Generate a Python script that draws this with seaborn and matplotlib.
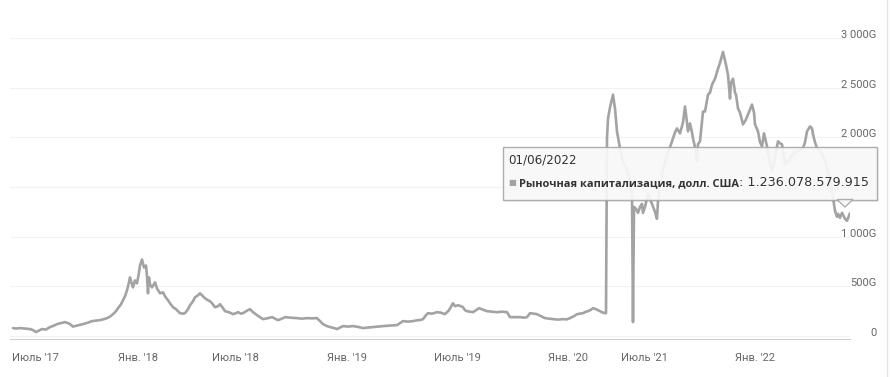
import matplotlib
matplotlib.use("Agg")
import matplotlib.pyplot as plt
import matplotlib.transforms as mtransforms
import pandas as pd
import seaborn as sns
from matplotlib.patches import FancyBboxPatch, Polygon

# ordinal point position along the (gapped) time axis, and market cap in billions USD
point_pos = [
    1, 4, 8, 13, 18, 21, 24, 27, 30, 34, 38, 42, 45, 49, 53, 56, 58, 61, 63, 67,
    71, 76, 80, 84, 88, 92, 95, 98, 101, 104, 106, 109, 111, 113, 115, 117, 118, 120, 121, 123,
    125, 127, 128, 130, 132, 134, 135, 136, 137, 138, 140, 143, 145, 148, 151, 153, 156, 158, 161, 164,
    168, 171, 173, 176, 178, 181, 183, 186, 188, 191, 193, 196, 198, 200, 203, 206, 208, 211, 213, 217,
    221, 224, 226, 229, 231, 235, 238, 241, 245, 248, 251, 256, 260, 263, 266, 270, 273, 278, 285, 290,
    295, 300, 305, 308, 311, 315, 318, 322, 325, 328, 331, 336, 341, 346, 351, 356, 361, 366, 371, 378,
    385, 388, 391, 396, 401, 406, 408, 411, 414, 416, 420, 425, 429, 433, 437, 441, 443, 446, 449, 451,
    453, 455, 458, 461, 464, 467, 471, 475, 480, 485, 490, 495, 498, 503, 508, 512, 515, 518, 522, 525,
    529, 533, 537, 541, 546, 551, 555, 558, 562, 565, 568, 571, 574, 576, 579, 581, 584, 588, 591, 593,
    594, 595, 596, 598, 600, 601, 603, 605, 608, 611, 614, 617, 620, 621, 622, 624, 626, 628, 630, 631,
    633, 636, 638, 640, 643, 645, 646, 648, 650, 653, 656, 658, 660, 663, 665, 668, 671, 673, 675, 676,
    678, 680, 681, 683, 685, 686, 688, 691, 693, 696, 698, 700, 703, 706, 708, 711, 714, 716, 718, 719,
    721, 723, 724, 726, 728, 731, 734, 736, 740, 742, 743, 746, 748, 750, 752, 755, 758, 760, 763, 766,
    768, 770, 773, 776, 778, 781, 785, 788, 791, 793, 795, 798, 800, 801, 803, 805, 808, 810, 813, 815,
    818, 820, 822, 823, 825, 826, 828, 830, 833, 835, 838,
]
market_cap = [
    80, 75, 80, 75, 70, 60, 40, 55, 70, 65, 90, 105, 120, 130, 140, 130, 120, 95, 100, 110,
    120, 135, 150, 155, 160, 170, 180, 195, 220, 250, 280, 320, 360, 400, 460, 540, 590, 520, 490, 560,
    530, 640, 710, 770, 690, 710, 600, 430, 590, 520, 490, 540, 480, 430, 440, 400, 360, 330, 290, 270,
    230, 225, 230, 270, 310, 350, 390, 410, 430, 400, 380, 360, 350, 330, 290, 300, 320, 280, 250, 240,
    220, 230, 240, 225, 230, 255, 270, 240, 210, 190, 170, 180, 190, 175, 160, 175, 190, 185, 180, 175,
    180, 178, 180, 150, 120, 100, 90, 80, 70, 85, 100, 95, 100, 92, 80, 85, 90, 95, 100, 105,
    110, 130, 150, 145, 150, 160, 160, 170, 210, 230, 225, 240, 235, 220, 260, 330, 300, 310, 300, 290,
    260, 250, 245, 240, 260, 280, 265, 250, 245, 240, 245, 240, 190, 190, 190, 185, 190, 230, 225, 220,
    200, 180, 175, 170, 165, 170, 168, 180, 200, 220, 225, 230, 245, 250, 265, 280, 270, 250, 235, 230,
    230, 1990, 2190, 2300, 2390, 2430, 2290, 2060, 1890, 1750, 1700, 1600, 1400, 140, 1300, 1280, 1240, 1300, 1330, 1240,
    1300, 1430, 1380, 1330, 1250, 1180, 1360, 1500, 1630, 1750, 1860, 1900, 1960, 2050, 2090, 2040, 2150, 2310, 2150, 2060,
    2140, 2050, 1990, 1900, 1760, 1930, 1960, 2260, 2260, 2430, 2450, 2530, 2590, 2690, 2750, 2860, 2730, 2630, 2390, 2550,
    2590, 2450, 2430, 2290, 2250, 2130, 2180, 2230, 2330, 2250, 2130, 2060, 1950, 1910, 2040, 1910, 1750, 1660, 1800, 1960,
    1940, 1930, 1730, 1750, 1790, 1830, 1860, 1870, 1890, 1950, 2060, 2110, 2090, 2030, 1950, 1890, 1860, 1830, 1770, 1690,
    1580, 1460, 1330, 1260, 1200, 1230, 1190, 1240, 1180, 1160, 1236,
]

tick_pos = [14, 126, 223, 335, 445, 556, 632, 743]
tick_labels = ["Июль '17", "Янв. '18", "Июль '18", "Янв. '19", "Июль '19", "Янв. '20", "Июль '21", "Янв. '22"]
y_ticks = [0, 500, 1000, 1500, 2000, 2500, 3000]
y_labels = ["0", "500G", "1 000G", "1 500G", "2 000G", "2 500G", "3 000G"]

tooltip_date = "01/06/2022"
tooltip_series = "Рыночная капитализация, долл. США"
tooltip_value = ": 1.236.078.579.915"

sns.set_theme(style="white")
plt.rcParams["font.family"] = ["Roboto", "DejaVu Sans"]

W, H = 891, 377
fig = plt.figure(figsize=(W / 100, H / 100), dpi=100)
ax = fig.add_axes([10 / W, 38 / H, 840 / W, 301 / H])

df = pd.DataFrame({"pos": point_pos, "cap": market_cap})
sns.lineplot(data=df, x="pos", y="cap", color="#a3a3a3", linewidth=1.9, ax=ax)

ax.set_xlim(-2, 838)
ax.set_ylim(-30, 3000)
ax.set_xlabel("")
ax.set_ylabel("")

ax.set_xticks(tick_pos)
ax.set_xticklabels(tick_labels)
ax.tick_params(axis="x", direction="out", length=7, width=0.8, color="#d0d0d0",
               labelsize=8, labelcolor="#666666", pad=3)
# first label is pushed inside the chart, like the original widget does
first = ax.get_xticklabels()[0]
first.set_transform(first.get_transform() + mtransforms.ScaledTranslation(9 / 100, 0, fig.dpi_scale_trans))

ax.yaxis.tick_right()
ax.set_yticks(y_ticks)
ax.set_yticklabels(y_labels)
ax.tick_params(axis="y", length=0, labelsize=8, labelcolor="#666666", pad=19)
for lbl in ax.get_yticklabels():
    lbl.set_horizontalalignment("right")
    lbl.set_verticalalignment("baseline")
# the 1 500G label sits under the tooltip in the original
ax.get_yticklabels()[3].set_visible(False)

ax.grid(axis="y", color="#f2f2f2", linewidth=0.8)
ax.grid(axis="x", visible=False)
for side in ["top", "left", "right"]:
    ax.spines[side].set_visible(False)
ax.spines["bottom"].set_color("#d0d0d0")
ax.spines["bottom"].set_linewidth(0.8)

# faint border on the far right of the widget
fig.add_artist(plt.Line2D([887 / W, 887 / W], [0, 1], color="#e6e6e6", linewidth=1))


def fx(px):
    return px / W


def fy(py):
    return 1 - py / H


# tooltip, drawn inside the axes (above the tick labels) but placed in figure pixels
ft = fig.transFigure
ax.add_patch(FancyBboxPatch((fx(505), fy(202)), fx(877) - fx(503), fy(147) - fy(200),
                            boxstyle="square,pad=0", transform=ft, clip_on=False,
                            facecolor="#000000", alpha=0.06, edgecolor="none", zorder=9))
ax.add_patch(FancyBboxPatch((fx(503), fy(200)), fx(877) - fx(503), fy(147) - fy(200),
                            boxstyle="square,pad=0", transform=ft, clip_on=False,
                            facecolor="#f9f9f9", alpha=0.92, edgecolor="#a8a8a8", linewidth=1, zorder=10))
ax.add_patch(Polygon([(fx(837), fy(199.5)), (fx(853), fy(199.5)), (fx(845), fy(207))], closed=True,
                     transform=ft, clip_on=False, facecolor="#f9f9f9", edgecolor="#a8a8a8",
                     linewidth=1, alpha=0.92, zorder=10))

ax.text(fx(508), fy(160), tooltip_date, transform=ft, fontsize=8.6, color="#333333",
        va="center", ha="left", family=["DejaVu Sans"], zorder=11, clip_on=False)
ax.text(fx(512), fy(182.5), "\u25a0", transform=ft, fontsize=6, color="#a3a3a3",
        va="center", ha="center", family=["DejaVu Sans"], zorder=11, clip_on=False)
series_txt = ax.text(fx(519), fy(186), tooltip_series, transform=ft, fontsize=7.9, color="#333333",
                     fontweight="bold", va="baseline", ha="left", family=["Open Sans", "DejaVu Sans"],
                     zorder=11, clip_on=False)
ax.annotate(tooltip_value, xy=(1, 0), xycoords=series_txt, va="bottom", ha="left",
            fontsize=9.2, color="#333333", family=["DejaVu Sans"], zorder=11,
            annotation_clip=False)

fig.savefig("out.png", dpi=100, facecolor="white")
